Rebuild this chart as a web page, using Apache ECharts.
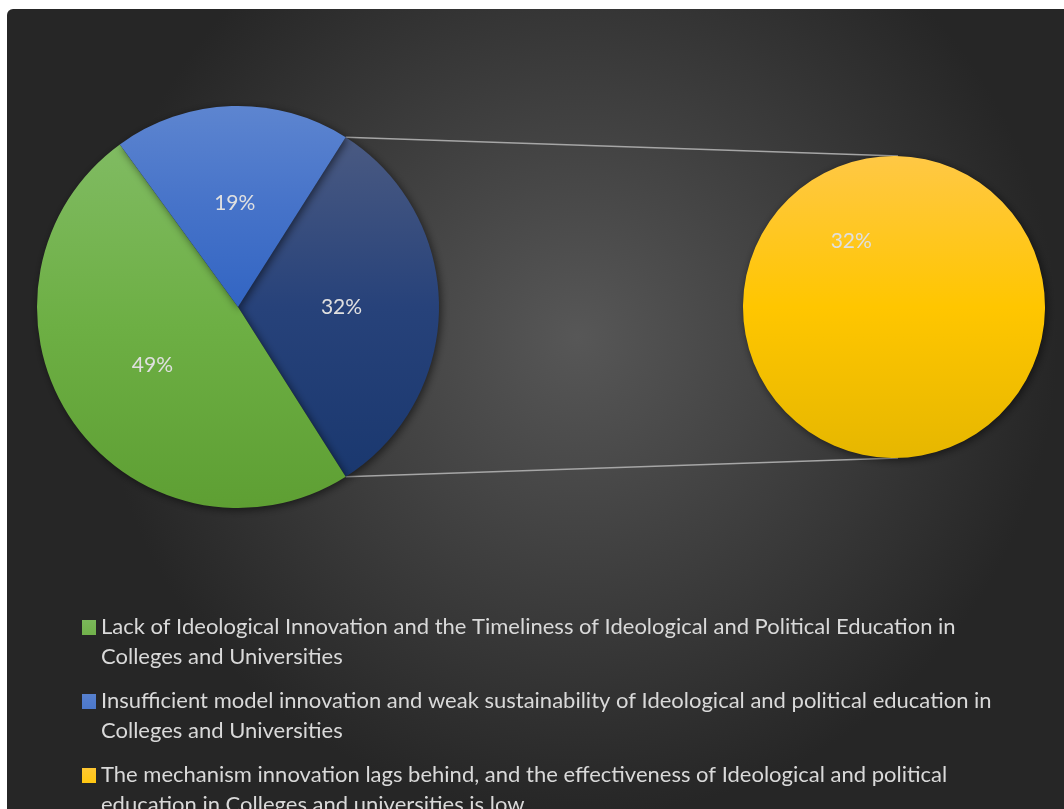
<!DOCTYPE html>
<html>
<head>
<meta charset="utf-8">
<script src="https://cdn.jsdelivr.net/npm/echarts@6/dist/echarts.min.js"></script>
<style>
  html, body { margin: 0; padding: 0; background: #fff; }
  #main { position: absolute; left: 7px; top: 9px; width: 1057px; height: 800px; border-radius: 6px 0 0 0; overflow: hidden; }
</style>
</head>
<body>
<div id="main"></div>
<script>
// legend names (first pie) and the item that is split out into the second pie
var names = [
    'Lack of Ideological Innovation and the Timeliness of Ideological and Political Education in Colleges and Universities',
    'Insufficient model innovation and weak sustainability of Ideological and political education in Colleges and Universities',
    'The mechanism innovation lags behind, and the effectiveness of Ideological and political education in Colleges and universities is low'
];
var values = [49, 19, 32];      // percent
var otherName = 'Other';        // aggregated slice on the main pie

function grad(top, mid, bottom) {
    return {
        type: 'linear', x: 0, y: 0, x2: 0, y2: 1,
        colorStops: [
            {offset: 0, color: top},
            {offset: 0.5, color: mid},
            {offset: 1, color: bottom}
        ]
    };
}
var green = grad('#80bb62', '#6daf44', '#5e9f33');
var blue = grad('#5d85d0', '#4673c9', '#3265c3');
var navy = grad('#4a5a82', '#27427a', '#1a386f');
var yellow = grad('#ffc845', '#ffc600', '#e6b700');

var font = 'Lato';
var mainCenter = [231, 298], mainR = 201;
var subCenter = [887, 298], subR = 151;
var startAngle = 57.6;

var chart = echarts.init(document.getElementById('main'));

// connector lines from the split slice edges to the top/bottom of the second pie
var share = values[2] / (values[0] + values[1] + values[2]) * 360;
var a1 = startAngle * Math.PI / 180;
var a2 = (startAngle - share) * Math.PI / 180;
var p1 = [mainCenter[0] + mainR * Math.cos(a1), mainCenter[1] - mainR * Math.sin(a1)];
var p2 = [mainCenter[0] + mainR * Math.cos(a2), mainCenter[1] - mainR * Math.sin(a2)];
var q1 = [subCenter[0] + 4, subCenter[1] - subR];
var q2 = [subCenter[0] + 4, subCenter[1] + subR];

var labelStyle = {
    position: 'inner',
    formatter: '{c}%',
    color: '#e0e0e0',
    fontFamily: font,
    fontSize: 21
};
var sliceStyle = {
    shadowBlur: 8,
    shadowColor: 'rgba(0,0,0,0.55)',
    shadowOffsetX: 2,
    shadowOffsetY: 2
};

var option = {
    animation: false,
    backgroundColor: {
        type: 'radial', x: 0.54, y: 0.41, r: 0.6,
        colorStops: [
            {offset: 0, color: '#575757'},
            {offset: 1, color: '#262626'}
        ]
    },
    legend: {
        orient: 'vertical',
        left: 75,
        top: 603,
        height: 400,
        padding: 0,
        itemGap: 14,
        itemWidth: 14,
        itemHeight: 60,
        icon: 'path://M0,0L0,0M0,8h14v15h-14zM14,60L14,60',
        selectedMode: false,
        data: names,
        itemStyle: { borderWidth: 0, shadowBlur: 0 },
        textStyle: {
            color: '#d9d9d9',
            fontFamily: font,
            fontSize: 22,
            lineHeight: 30,
            width: 915,
            overflow: 'break'
        }
    },
    graphic: [
        {
            type: 'line', silent: true, z: 0,
            shape: {x1: p1[0], y1: p1[1], x2: q1[0], y2: q1[1]},
            style: {stroke: '#a6a6a6', lineWidth: 1.5}
        },
        {
            type: 'line', silent: true, z: 0,
            shape: {x1: p2[0], y1: p2[1], x2: q2[0], y2: q2[1]},
            style: {stroke: '#a6a6a6', lineWidth: 1.5}
        }
    ],
    series: [
        {
            type: 'pie',
            center: mainCenter,
            radius: mainR,
            startAngle: startAngle,
            clockwise: true,
            emphasis: { disabled: true },
            itemStyle: sliceStyle,
            label: labelStyle,
            labelLine: { show: false },
            data: [
                {name: otherName, value: values[2], itemStyle: {color: navy}},
                {name: names[0], value: values[0], itemStyle: {color: green}},
                {name: names[1], value: values[1], itemStyle: {color: blue}}
            ]
        },
        {
            type: 'pie',
            center: subCenter,
            radius: subR,
            startAngle: -57,
            clockwise: true,
            emphasis: { disabled: true },
            itemStyle: sliceStyle,
            label: labelStyle,
            labelLine: { show: false },
            data: [
                {name: names[2], value: values[2], itemStyle: {color: yellow}}
            ]
        }
    ]
};

chart.setOption(option);
window.addEventListener('resize', function () { chart.resize(); });
</script>
</body>
</html>
